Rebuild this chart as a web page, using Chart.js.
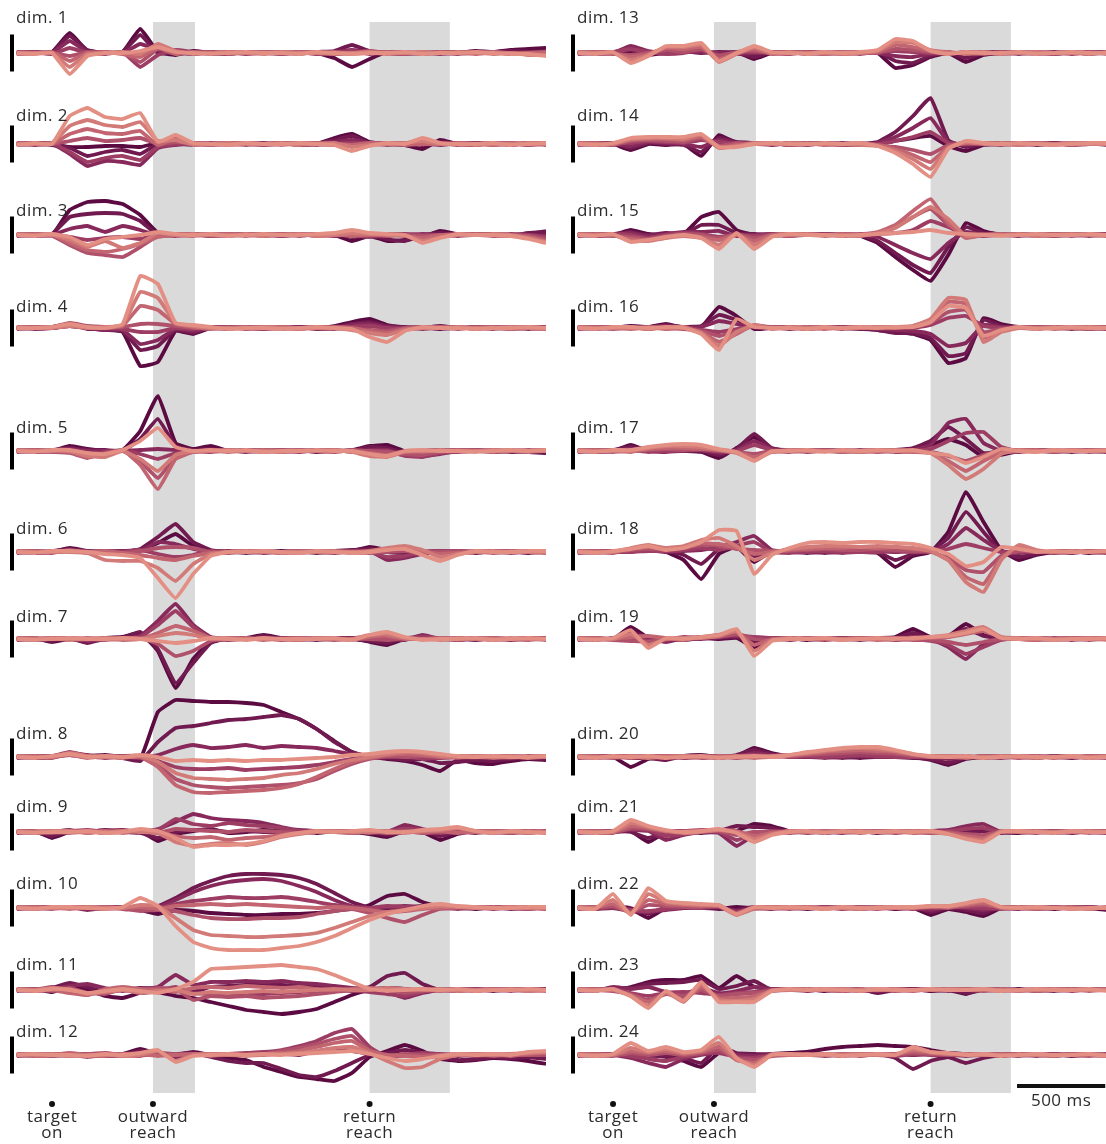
<!DOCTYPE html>
<html><head><meta charset="utf-8">
<script src="https://cdn.jsdelivr.net/npm/chart.js@4.4.0/dist/chart.umd.min.js"></script>
<style>
html,body{margin:0;padding:0;background:#fff;overflow:hidden;width:1106px;height:1144px;}
#wrap{position:relative;width:1106px;height:1144px;overflow:hidden;}
canvas{position:absolute;}
</style></head><body><div id="wrap"></div>
<script>
// ---------- DATA ----------
const times = [-200,-100,0,100,200,300,400,500,600,700,800,900,1000,1100,1200,1300,1400,1500,1600,1700,1800,1900,2000,2100,2200,2300,2400,2500,2600,2700,2800];
const dimNames = ["dim. 1","dim. 2","dim. 3","dim. 4","dim. 5","dim. 6","dim. 7","dim. 8","dim. 9","dim. 10","dim. 11","dim. 12","dim. 13","dim. 14","dim. 15","dim. 16","dim. 17","dim. 18","dim. 19","dim. 20","dim. 21","dim. 22","dim. 23","dim. 24"];
const eventTimes = [0, 572, 1800];
const eventLabels = [["target","on"],["outward","reach"],["return","reach"]];
const bandRanges = [[572, 810],[1800, 2255]];
const timeBar = [2290, 2790];
const timeBarLabel = "500 ms";
const ampBar = 18.5;

const dim1 = [
[0,1,1,20,2,0,1,24,1,-2,2,0,-1,1,0,-1,1,0,-5,-14,-6,1,0,-1,1,0,2,1,3,4,5],
[1,0,1,17,3,0,1,18,0,0,-1,1,0,0,1,0,-1,1,2,8,2,0,-1,0,1,1,0,1,2,1,2],
[-1,0,0,12,1,1,0,9,3,1,0,-1,1,0,0,1,0,0,1,3,1,1,0,0,-1,0,1,0,0,1,0],
[0,1,-1,5,0,-1,1,-14,-2,3,1,0,1,-1,0,0,1,-1,0,2,-1,0,1,0,0,-1,0,1,-1,0,-1],
[1,0,0,-3,1,0,0,-9,4,2,0,1,0,1,0,-1,0,1,-1,0,2,0,-1,1,0,0,1,0,0,-1,0],
[0,-1,1,-8,0,1,-1,-4,5,-1,1,0,-1,0,1,0,1,0,1,-1,0,1,0,-1,1,0,-1,1,0,0,1],
[-1,0,0,-14,-1,0,1,-1,9,2,-1,0,1,0,-1,1,0,0,-1,0,1,-1,0,1,0,1,0,-1,0,-2,-2],
[0,-1,0,-21,-3,0,0,2,6,1,0,-1,0,1,0,0,-1,1,0,-1,0,0,1,-1,0,0,1,0,-1,-1,-3]];
const dim2 = [
[0,1,0,-3,-3,-2,-2,-3,1,0,-1,0,1,0,-1,0,1,0,6,10,2,0,-1,-5,4,0,1,0,-1,1,0],
[1,0,-1,-4,-12,-8,-6,-10,0,1,0,-1,0,1,0,1,-1,0,4,8,1,1,0,-1,2,0,-1,1,0,0,1],
[0,-1,0,-10,-22,-17,-18,-21,-4,-1,1,0,-1,0,1,0,0,1,2,4,1,0,1,0,-1,1,0,0,1,-1,0],
[-1,0,1,-8,-18,-14,-12,-16,-3,0,0,1,0,-1,0,1,0,-1,0,1,0,-1,0,1,0,0,1,-1,0,1,-1],
[0,1,0,3,6,3,4,6,0,2,1,0,1,0,-1,0,1,0,-1,-2,0,1,0,0,1,-1,0,1,0,-1,0],
[1,0,0,10,15,11,10,13,-1,6,1,-1,0,1,0,-1,0,1,0,-1,1,0,-1,0,0,1,0,-1,1,0,1],
[0,0,1,18,24,19,17,22,3,4,-1,0,1,0,0,1,-1,0,1,-3,-1,0,1,3,0,0,-1,0,0,1,0],
[-1,1,0,28,36,27,25,31,2,9,1,0,-1,1,0,0,1,0,-1,-7,-2,1,0,6,1,0,0,1,-1,0,1]];
const dim3 = [
[0,1,0,25,33,34,31,20,2,0,1,-1,0,1,0,-1,0,1,0,-6,-1,-6,-5,-2,4,1,0,1,0,1,4],
[1,0,1,18,21,22,21,14,0,1,0,0,-1,0,1,0,1,-1,1,-2,0,-4,-6,0,2,0,1,0,-1,2,3],
[0,-1,0,6,9,3,9,5,-1,0,1,0,1,0,-1,1,0,0,-1,1,0,1,0,1,0,-1,0,1,0,0,-1],
[-1,0,0,-2,-5,-3,-2,-4,0,-1,0,1,0,1,0,-1,1,0,0,0,-2,0,1,0,-1,0,1,0,1,0,-2],
[0,0,-1,-10,-18,-20,-22,-12,-1,1,0,-1,0,0,1,0,-1,1,0,0,1,-1,0,-1,0,1,0,-1,0,-1,-4],
[0,1,0,-8,-15,-17,-14,-9,-2,0,-1,0,1,-1,0,1,0,0,1,-1,0,0,-1,-3,0,0,1,0,-1,-2,-6],
[1,0,0,-5,-12,-6,-13,-8,2,0,1,0,0,1,-1,0,1,-1,0,2,1,0,0,-6,-2,0,0,1,0,-3,-7],
[0,-1,1,-2,-10,-4,-2,0,3,1,0,1,-1,0,1,0,0,1,2,5,2,1,0,-8,-3,1,0,0,-1,-4,-8]];
const dim4 = [
[0,1,0,2,0,-2,-4,-38,-34,-3,-6,0,1,0,-1,0,1,0,2,6,9,3,0,1,-1,0,1,0,-1,0,1],
[1,0,1,4,-1,-1,-3,-22,-18,-2,-5,1,0,1,0,-1,0,1,1,4,6,2,1,0,2,0,0,1,0,-1,0],
[0,-1,0,3,0,-2,-2,-16,-12,-1,-3,0,-1,0,1,0,1,-1,0,3,4,1,0,-1,0,1,-1,0,1,0,-1],
[-1,0,0,2,1,0,-1,-4,-4,0,-1,1,0,0,-1,1,0,0,-1,1,2,0,-1,0,1,0,0,-1,0,1,0],
[0,0,1,5,2,1,1,4,4,2,0,0,1,-1,0,0,-1,1,0,-1,-2,-3,0,1,0,-1,1,0,0,0,1],
[0,1,0,3,1,0,2,22,18,4,1,-1,0,1,0,1,0,0,1,0,-3,-5,-1,0,1,0,0,1,-1,0,0],
[1,0,0,2,0,1,3,36,30,5,2,0,0,0,1,0,-1,0,0,-2,-5,-7,-2,0,0,1,0,0,1,0,-1],
[0,0,1,4,1,0,4,52,44,5,3,1,-1,0,0,-1,0,1,0,-1,-9,-14,-3,1,0,0,-1,0,0,1,0]];
const dim5 = [
[0,1,0,5,2,0,1,20,55,8,2,5,0,1,0,-1,0,1,0,1,5,6,0,-1,0,1,0,-1,0,-1,-2],
[1,0,1,3,1,1,0,12,32,5,1,2,0,0,1,0,1,-1,0,0,4,3,-2,0,1,0,1,0,-1,0,-1],
[0,-1,0,2,0,0,0,1,2,1,0,0,1,-1,0,1,0,0,1,-1,1,1,-4,-5,-3,0,0,1,0,0,0],
[-1,0,0,-1,-4,-1,0,-3,-8,-2,0,-1,0,1,0,0,-1,1,0,0,-1,0,-5,-6,-2,-1,0,0,1,0,1],
[0,0,-1,-2,-7,-2,0,-10,-27,-6,-1,0,0,0,-1,1,0,0,-1,1,0,-1,-3,-4,-1,0,1,0,0,1,0],
[0,1,0,-1,-6,-3,1,-14,-38,-8,-1,1,-1,0,1,0,1,0,0,0,-2,-4,0,-1,0,1,0,-1,0,0,1],
[1,0,0,0,-5,-6,0,-8,-20,-4,0,0,1,0,0,-1,0,0,1,-1,-5,-6,-1,0,1,0,0,1,0,-1,0],
[0,-1,1,1,-2,-3,1,10,23,4,0,1,0,1,-1,0,0,1,0,0,-3,-5,0,1,0,0,-1,0,1,0,1]];
const dim6 = [
[0,1,0,4,1,0,1,2,9,18,6,1,0,-1,0,1,0,-1,0,1,5,2,0,-1,0,1,0,0,1,-1,0],
[1,0,1,3,0,1,0,3,15,28,10,2,0,1,0,0,1,0,1,2,3,0,-1,0,1,0,-1,1,0,0,1],
[0,-1,0,2,1,0,1,1,10,8,3,0,1,0,-1,0,0,1,0,0,1,-8,-6,-2,0,-1,0,1,0,1,0],
[-1,0,0,1,0,-1,0,2,-2,-5,-3,1,0,0,1,-1,0,0,-1,1,0,-5,-4,0,1,0,1,0,-1,0,0],
[0,0,-1,2,-1,0,-1,1,4,5,4,0,-1,1,0,0,-1,1,0,0,-1,0,1,0,0,1,0,-1,0,0,1],
[0,1,0,1,0,1,-1,-3,-6,-8,-4,-1,0,0,1,0,1,0,0,-1,0,3,4,1,-2,-1,0,0,1,0,-1],
[1,0,0,0,-1,-8,-9,-9,-16,-29,-12,-2,0,1,0,-1,0,0,1,0,1,4,6,2,-5,-2,0,1,0,0,0],
[0,-1,1,1,0,-2,-3,-6,-26,-46,-22,-4,0,0,1,0,-1,1,0,-1,0,2,3,-3,-9,-3,1,0,0,1,1]];
const dim7 = [
[0,1,-3,0,-3,1,2,6,-12,-49,-20,-2,0,1,4,1,0,-1,0,1,-3,-6,0,1,0,-1,1,0,0,1,0],
[1,0,-2,1,-4,0,1,7,-10,-44,-24,-4,1,0,3,0,1,0,1,0,-2,-4,1,2,0,0,-1,1,0,0,1],
[0,-1,0,1,-2,0,0,3,18,35,14,2,0,1,0,0,-1,0,0,1,2,0,-1,4,0,1,0,0,-1,0,0],
[-1,0,1,0,-1,1,1,2,14,28,12,1,-1,0,0,1,0,1,0,0,1,1,0,2,1,0,0,-1,0,1,-1],
[0,0,0,1,0,-1,0,1,-5,-17,-12,-2,0,0,1,-1,0,0,-1,0,0,-1,1,0,0,-1,1,0,0,-1,0],
[0,1,0,0,1,0,-1,0,6,13,8,1,0,1,-1,0,1,0,0,-1,2,3,0,0,1,0,0,1,0,0,1],
[1,0,1,-1,0,1,0,0,3,6,4,0,1,0,0,0,-1,1,0,0,4,5,1,0,-1,1,0,0,1,0,0],
[0,-1,0,1,0,0,1,0,-2,-4,-2,1,0,-1,1,0,0,0,1,-1,4,7,2,-1,0,0,1,-1,0,1,0]];
const dim8 = [
[0,1,0,3,1,2,0,-2,45,57,56,55,55,54,52,45,38,28,16,5,0,-2,-4,-8,-14,-3,-6,-7,-4,-2,-3],
[1,0,1,2,0,1,-1,-4,15,29,31,34,37,38,40,42,38,28,15,5,0,-1,-3,-2,-6,-5,-3,-4,-2,-1,-2],
[0,-1,0,4,2,0,1,0,2,8,12,9,10,12,9,11,10,9,6,3,1,2,0,-1,0,1,-1,0,1,0,0],
[-1,0,1,5,1,-1,0,-1,-4,-10,-12,-12,-11,-13,-12,-11,-10,-8,-5,-2,-1,0,1,-2,-1,0,1,0,-1,0,1],
[0,0,-1,3,0,0,1,1,-8,-22,-28,-30,-31,-30,-29,-28,-26,-22,-14,-7,-2,1,0,1,0,-1,0,1,0,1,0],
[0,1,0,2,-1,1,0,0,-10,-28,-35,-36,-35,-34,-33,-31,-27,-20,-12,-5,-1,2,3,2,0,1,0,-1,0,0,1],
[1,0,0,4,1,0,-1,1,-5,-16,-21,-22,-23,-22,-21,-18,-16,-12,-7,-3,0,3,5,4,1,0,1,0,1,-1,0],
[0,-1,1,3,0,1,0,2,0,-4,-3,-4,-3,-4,-3,-3,-2,-1,0,2,3,5,6,5,3,1,0,1,0,0,1]];
const dim9 = [
[0,1,-6,0,1,-1,1,1,-9,-2,1,3,-1,0,2,1,0,-1,1,0,-2,-5,1,0,-8,-2,1,0,-1,1,0],
[1,0,-4,1,0,2,0,-1,-6,0,2,2,0,1,0,-1,1,0,0,1,0,-3,0,1,-4,0,0,1,0,-1,1],
[0,-1,0,2,-1,1,2,0,3,10,18,14,12,11,9,5,2,1,0,-1,1,0,7,3,0,1,-1,0,1,0,0],
[-1,0,1,1,2,0,1,0,2,13,8,6,9,7,6,4,1,0,1,0,0,1,3,2,-1,0,1,-1,0,1,-1],
[0,0,-1,0,1,-1,0,1,-1,3,2,1,0,2,1,0,-1,1,0,1,-1,0,1,-1,0,2,0,0,-1,0,1],
[0,1,0,-1,0,1,-1,2,0,-4,-6,-5,-8,-6,-5,-3,-1,0,0,-1,1,-1,0,0,1,-1,0,1,0,1,0],
[1,0,1,1,-1,0,1,0,-1,-10,-14,-12,-11,-13,-10,-5,-2,0,1,0,0,1,-1,1,2,4,1,0,0,-1,0],
[0,-1,0,0,1,-1,0,3,1,-6,-15,-13,-13,-12,-9,-4,-1,1,0,1,2,0,0,2,3,5,1,-1,1,0,-1]];
const dim10 = [
[0,1,0,1,-1,0,1,-2,-6,-2,-3,-5,-6,-7,-7,-6,-6,-5,-3,-1,3,12,14,6,1,0,-1,1,0,-1,1],
[1,0,1,0,0,1,0,0,2,10,20,27,32,34,34,33,30,24,15,6,0,-1,0,2,1,0,1,0,-1,0,0],
[0,-1,0,1,-2,0,1,-1,1,8,16,22,26,28,29,27,22,16,8,2,0,1,2,1,0,-1,0,1,0,1,-1],
[-1,0,1,0,0,-1,0,1,0,4,7,9,11,10,10,11,9,6,3,1,0,2,1,0,0,1,0,-1,1,0,0],
[0,0,-1,1,1,0,-1,-3,-2,-3,-7,-10,-11,-11,-10,-10,-9,-6,-3,-1,-5,-10,-14,-7,-1,0,1,0,0,-1,1],
[0,1,0,-1,0,1,0,1,-1,2,3,4,3,4,3,2,1,0,1,0,-2,-4,-3,-1,0,1,0,1,0,0,-1],
[1,0,0,0,1,0,0,3,2,-10,-22,-27,-28,-29,-29,-28,-27,-25,-20,-14,-8,-4,-2,0,2,1,0,0,1,0,0],
[0,-1,1,1,0,-1,1,10,2,-18,-34,-40,-42,-42,-42,-40,-38,-34,-28,-20,-12,-6,-2,2,4,2,1,0,0,1,1]];
const dim11 = [
[0,1,-2,3,0,-6,-8,-3,-2,-6,-8,-12,-16,-20,-22,-24,-22,-19,-12,-5,0,2,1,-1,0,1,0,-1,0,1,0],
[1,0,2,7,3,-2,0,2,1,0,-2,3,4,5,6,5,4,3,2,1,3,14,17,6,0,-1,1,0,1,0,1],
[0,-1,1,4,6,2,-1,1,3,15,5,8,8,9,8,9,7,6,4,2,0,-2,-8,-3,0,0,-1,1,0,-1,0],
[-1,0,3,-2,-5,0,2,0,-1,3,-3,-4,-3,-5,-4,-3,-2,-1,0,-1,-2,-4,-6,-2,1,0,1,0,-1,0,1],
[0,1,-1,2,-3,-4,1,-1,2,1,-10,-6,-7,-6,-8,-7,-6,-4,-2,0,1,0,-3,-1,0,1,0,0,1,1,0],
[0,-1,0,-3,-5,1,3,1,0,-2,2,3,2,4,3,2,3,1,0,1,2,1,0,1,-1,0,0,1,0,0,-1],
[1,0,2,1,-4,-2,0,-3,-1,0,-4,-2,-3,-2,-1,-2,-1,0,1,0,0,2,1,0,1,-1,0,0,1,-1,0],
[0,-1,1,0,-3,-1,1,-1,-3,1,8,21,22,23,24,25,23,21,15,8,1,-1,0,1,0,1,-1,0,0,1,0]];
const dim12 = [
[0,-1,0,1,-1,0,1,6,1,0,3,0,-3,-5,-12,-17,-22,-24,-26,-18,-2,4,10,4,-4,-6,-5,-3,-4,-6,-9],
[1,0,-1,0,1,-1,0,4,0,1,2,-2,-6,-8,-8,-14,-20,-22,-16,-8,0,2,5,2,-2,-5,-4,-2,-3,-2,-4],
[0,1,0,-1,0,1,-1,2,3,-2,0,1,0,1,2,1,0,4,6,4,1,0,-1,1,0,-1,1,0,0,1,0],
[-1,0,1,1,-2,0,1,0,1,0,1,0,1,2,3,5,9,14,22,26,8,-2,0,2,1,0,-1,1,0,0,1],
[0,0,-1,0,1,2,0,-1,2,1,0,1,0,1,1,4,7,11,16,19,5,-1,1,0,0,1,0,-1,1,0,0],
[0,-1,0,2,0,-1,1,1,-1,0,1,-1,1,0,1,2,4,8,12,14,4,0,-1,-2,0,0,1,0,-1,1,2],
[1,0,1,-1,0,0,-1,0,4,-6,0,1,0,-1,0,1,2,4,7,8,2,-6,-13,-12,-4,0,1,0,1,2,3],
[0,1,0,0,-1,1,0,2,5,-7,-1,0,1,0,1,0,1,2,3,4,1,-3,-6,-4,-1,1,0,1,0,3,4]];
const dim13 = [
[0,1,0,1,-2,0,1,2,-1,1,-6,0,1,0,-1,0,1,0,-15,-12,-4,0,-9,-2,0,1,0,-1,1,0,1],
[1,0,1,3,0,1,2,0,1,0,-4,1,0,1,0,-1,0,1,-8,-10,-3,1,-5,0,1,0,-1,0,1,-1,0],
[0,-1,0,7,2,0,1,1,0,-1,0,0,1,-1,0,1,0,0,-3,-4,-1,0,0,1,0,-1,0,1,0,0,1],
[-1,0,1,4,1,-1,0,3,-2,0,1,1,0,0,1,0,-1,1,2,1,0,-1,1,0,-1,0,1,0,-1,1,0],
[0,0,-1,-2,0,3,1,4,-3,1,2,0,-1,1,0,0,1,0,4,3,1,0,0,-1,1,0,0,-1,0,1,-1],
[0,1,0,-4,-1,5,4,6,-6,0,4,-1,0,0,-1,1,0,1,8,6,2,1,-1,0,0,1,0,0,1,0,0],
[1,0,0,-7,-2,6,6,8,-9,-1,6,0,1,0,0,-1,0,2,11,10,3,0,0,1,-1,0,1,0,0,-1,1],
[0,-1,1,-10,-3,7,7,10,-8,0,7,1,0,-1,1,0,1,3,14,12,2,-1,1,0,0,1,-1,0,1,0,0]];
const dim14 = [
[0,1,0,-6,0,-1,0,-12,9,1,0,1,-1,0,1,0,-1,0,3,6,8,-2,-7,-1,0,1,0,1,-1,0,0],
[1,0,1,-4,1,0,-1,-8,6,2,1,0,0,1,0,-1,0,2,12,28,46,4,-3,0,1,0,-1,0,0,1,-1],
[0,-1,0,-2,2,1,0,-3,4,1,0,-1,1,0,0,1,0,1,7,16,26,2,-1,1,0,-1,0,1,0,0,1],
[-1,0,1,1,3,2,1,4,2,0,1,0,0,-1,1,0,0,0,3,7,12,1,0,0,-1,0,1,0,1,0,0],
[0,0,-1,3,4,3,2,6,-2,1,0,1,-1,0,0,-1,1,-1,-3,-6,-10,-1,1,0,0,1,0,-1,0,1,0],
[0,1,0,4,5,5,4,7,-3,-1,0,0,0,1,-1,0,0,-1,-5,-11,-18,-3,1,1,0,0,1,0,-1,0,1],
[1,0,0,5,6,6,5,9,-4,-2,1,0,1,0,0,0,-1,-2,-7,-15,-25,-4,2,0,1,-1,0,0,1,0,0],
[0,-1,1,6,7,7,7,10,-3,-3,0,1,0,0,1,0,1,-2,-9,-20,-33,-5,3,1,0,1,0,-1,0,1,1]];
const dim15 = [
[0,1,0,5,1,0,1,18,23,5,0,1,-1,0,1,0,-1,-8,-22,-35,-46,-20,12,4,0,1,0,-1,0,1,0],
[1,0,1,3,0,2,1,10,10,2,1,0,0,1,0,-1,0,-6,-18,-30,-38,-12,8,2,1,0,-1,0,1,0,1],
[0,-1,0,2,-1,1,3,3,4,-1,0,-1,1,0,0,1,0,-2,-10,-18,-24,-8,3,0,0,-1,0,1,0,-1,0],
[-1,0,1,0,-3,0,2,1,-2,0,-1,1,0,0,1,0,0,1,2,5,14,8,0,-1,0,0,1,0,-1,0,1],
[0,0,-1,-2,-4,-1,1,0,-3,1,-3,0,-1,1,0,0,1,2,8,18,26,10,0,1,0,1,0,-1,0,1,0],
[0,1,0,-4,-5,-2,0,-2,-5,0,-6,0,1,0,-1,1,0,3,10,24,36,12,-3,0,1,0,0,1,0,0,-1],
[1,0,0,-6,-6,-3,-1,-3,-10,1,-10,-1,0,1,0,0,-1,2,7,18,28,16,-1,0,0,1,-1,0,1,0,0],
[0,-1,1,-7,-5,-2,0,-3,-14,2,-14,-2,1,0,0,-1,0,1,2,3,5,2,1,0,-1,0,1,0,0,1,0]];
const dim16 = [
[0,1,0,2,1,4,0,1,21,12,-1,0,1,-1,0,1,0,-2,-4,-6,-12,-35,-30,10,4,1,0,1,0,-1,0],
[1,0,1,1,0,3,1,2,13,8,0,1,0,0,1,0,-1,-2,-5,-5,-10,-28,-25,8,2,0,1,0,-1,0,1],
[0,-1,0,0,1,2,0,1,7,4,1,0,-1,1,0,0,1,-1,-2,-3,-6,-18,-15,3,1,0,-1,1,0,1,0],
[-1,0,1,1,-1,1,1,-2,-4,-1,2,0,0,-1,0,1,0,0,1,0,3,10,12,2,0,1,0,0,1,0,-1],
[0,0,-1,0,0,0,-1,-3,-8,-3,2,1,1,0,1,-1,0,1,0,1,5,16,18,-4,-1,0,1,0,0,-1,0],
[0,1,0,-1,1,-1,0,-4,-14,-6,3,0,0,1,-1,0,1,0,1,2,8,26,24,-10,-3,1,0,-1,0,0,1],
[1,0,0,0,-1,0,1,-5,-18,-4,3,-1,1,0,0,0,0,1,0,2,9,30,28,-14,-4,0,0,1,0,1,0],
[0,-1,1,1,0,1,0,-6,-22,9,1,0,0,-1,1,0,1,0,1,1,6,22,20,-8,-2,1,-1,0,1,0,0]];
const dim17 = [
[0,1,0,6,0,1,0,-1,-7,3,14,1,0,1,0,-1,0,1,0,2,6,12,6,-6,-4,0,1,0,-1,0,1],
[1,0,1,4,1,0,1,0,-4,2,17,3,0,0,1,0,-1,0,1,3,10,24,12,-2,0,1,0,-1,0,1,0],
[0,-1,0,2,0,-1,0,1,-2,1,10,2,1,0,0,1,0,0,0,1,6,28,32,8,0,-1,1,0,0,0,-1],
[-1,0,1,1,-1,0,1,1,0,0,6,1,0,-1,0,0,1,0,-1,0,2,10,18,19,4,0,0,1,0,-1,0],
[0,0,-1,0,1,2,1,2,0,-1,-3,0,-1,0,1,0,0,-1,0,0,-1,-5,-10,-4,0,1,0,-1,1,0,0],
[0,1,0,-1,2,3,3,2,1,-1,-6,-1,0,1,0,-1,0,1,0,-1,-2,-10,-20,-10,-2,0,1,0,0,1,0],
[1,0,0,0,3,5,5,4,1,-2,-9,-1,1,0,0,0,-1,0,1,0,-2,-14,-28,-18,-3,1,0,0,1,0,0],
[0,-1,1,1,4,6,7,6,2,-1,-10,0,0,1,-1,1,0,1,0,1,-2,-4,-12,-6,2,0,-1,1,0,0,1]];
const dim18 = [
[0,1,0,1,5,0,-8,-27,-2,5,-10,1,0,-1,0,1,0,-1,-15,-4,0,20,60,30,2,-8,-3,0,1,-1,0],
[1,0,1,0,3,1,-3,-12,3,6,-4,0,1,0,-1,0,1,0,-8,-2,1,14,40,20,0,-5,-2,1,0,0,1],
[0,-1,0,1,2,0,1,2,5,10,16,2,0,1,0,-1,0,1,0,1,0,8,24,12,1,-1,0,0,-1,1,0],
[-1,0,1,0,1,1,2,4,2,6,10,0,-1,0,1,0,0,0,1,0,1,3,8,4,0,0,1,-1,0,0,-1],
[0,0,-1,2,3,2,4,7,6,3,2,1,1,2,3,2,2,3,2,1,0,-6,-18,-20,-4,1,0,0,1,0,0],
[0,1,0,3,5,3,5,9,8,4,-2,0,2,3,4,4,5,4,5,3,1,-8,-25,-32,-6,6,1,0,0,1,0],
[1,0,0,4,7,4,6,12,14,6,-8,-1,3,5,6,6,5,6,5,4,1,-8,-30,-40,-8,7,2,0,1,0,1],
[0,-1,1,3,6,2,4,10,22,21,-22,-3,4,9,10,9,10,10,9,8,4,-2,-14,-10,5,3,0,1,0,0,1]];
const dim19 = [
[0,1,0,12,1,0,-1,1,0,1,-8,0,1,-1,0,1,0,1,2,10,2,3,15,4,0,1,0,-1,0,1,0],
[1,0,1,6,2,-2,0,1,1,2,-3,1,0,0,1,0,-1,0,1,6,1,2,10,3,1,0,-1,0,1,0,0],
[0,-1,1,3,0,-3,1,0,2,3,1,0,-1,1,0,0,1,0,0,2,0,-8,-20,-5,0,0,1,0,-1,0,1],
[-1,0,0,1,-2,-1,2,1,3,4,2,1,0,0,-1,1,0,0,-1,0,-2,-6,-15,-8,-1,1,0,1,0,-1,0],
[0,0,-1,-2,-3,0,1,2,2,5,0,-1,1,0,0,-1,0,1,0,-1,-1,-3,-6,-3,0,0,1,0,0,1,0],
[0,1,0,2,3,1,-1,2,4,7,-6,0,0,1,0,0,1,-1,0,0,1,2,5,8,2,0,-1,0,1,0,0],
[1,0,0,5,-6,0,1,1,3,8,-12,-1,1,0,1,0,0,0,1,0,2,4,8,12,2,1,0,0,0,1,-1],
[0,-1,1,9,-9,1,0,2,4,10,-17,-2,0,0,1,-1,0,1,0,1,2,3,6,10,1,0,1,-1,0,0,1]];
const dim20 = [
[0,1,0,-10,-2,1,0,1,-1,1,9,4,1,0,1,0,-1,0,1,0,-3,-8,-2,0,1,0,-1,1,0,0,1],
[1,0,1,-1,-1,-3,1,2,0,2,7,3,0,1,0,-1,0,1,0,-1,-2,-6,-1,1,0,1,0,0,-1,1,0],
[0,-1,0,0,1,-1,0,1,1,0,4,2,1,0,-1,0,1,0,0,1,0,-2,0,0,-1,0,1,0,0,-1,0],
[-1,0,1,1,0,0,-1,0,-1,1,2,1,0,1,0,1,2,1,0,0,1,0,1,-1,0,0,0,1,0,0,-1],
[0,0,-1,0,1,1,0,-1,0,-1,1,0,1,2,3,4,5,4,3,1,0,1,0,0,1,-1,0,0,1,0,0],
[0,1,0,-1,0,1,1,0,1,0,-1,0,1,3,5,6,7,6,5,2,1,0,-1,1,0,0,1,-1,0,1,0],
[1,0,0,1,-1,0,1,0,0,1,0,1,2,4,6,8,9,8,6,3,0,1,0,0,1,0,-1,0,0,0,1],
[0,-1,1,0,1,-1,0,1,-1,0,1,0,2,5,7,9,10,10,7,3,1,0,1,-1,0,1,0,0,1,-1,0]];
const dim21 = [
[0,1,0,1,-10,0,1,-1,0,1,8,6,1,0,-1,1,0,0,1,0,-1,0,1,2,0,-1,0,1,0,0,1],
[1,0,1,0,-6,-1,0,1,1,6,5,4,0,1,0,0,1,-1,0,1,0,1,0,1,-1,0,1,0,-1,1,0],
[0,-1,0,2,1,-8,-3,0,-1,-14,-3,0,1,0,0,-1,0,1,0,0,1,2,6,8,0,1,0,-1,0,0,-1],
[-1,0,1,3,2,-4,-2,1,0,-8,-2,1,0,-1,1,0,1,0,-1,1,0,1,3,4,0,0,-1,0,1,0,0],
[0,0,-1,4,3,0,1,2,1,-3,0,0,-1,1,0,1,0,0,1,0,-1,0,-2,-3,1,0,0,1,0,-1,0],
[0,1,0,6,4,1,0,1,2,1,-4,-1,0,0,1,0,-1,1,0,-1,0,-1,-4,-6,0,1,0,0,1,0,1],
[1,0,0,9,5,1,-1,0,2,0,-7,-2,1,0,0,0,1,0,0,1,0,-2,-6,-8,1,0,1,0,0,1,0],
[0,-1,1,12,6,2,0,1,3,-1,-10,-3,0,1,-1,1,0,0,1,0,1,-2,-7,-10,0,1,0,-1,1,0,0]];
const dim22 = [
[0,1,0,-1,-10,0,1,0,-1,1,0,1,0,-1,1,0,0,1,-1,0,-7,-1,-4,-8,0,1,0,-1,1,0,-2],
[1,0,1,0,-6,1,0,1,0,-2,1,0,1,0,0,1,-1,0,0,1,-4,0,-2,-5,1,0,-1,0,0,1,-1],
[0,-1,0,-3,-4,-2,0,1,1,-3,0,-1,0,1,0,0,1,0,1,0,-2,1,0,-2,0,-1,0,1,0,0,0],
[-1,0,1,-2,-3,-1,1,0,1,-4,1,0,-1,0,1,-1,0,0,0,-1,0,1,1,0,-1,0,1,0,-1,1,0],
[0,0,2,-4,3,2,1,1,2,-5,0,1,0,0,-1,0,1,-1,0,1,1,0,2,3,1,0,0,1,0,-1,1],
[0,1,4,-5,8,4,3,2,3,-6,-1,0,1,0,0,1,0,0,1,0,1,2,3,5,0,0,-1,0,1,0,0],
[1,0,8,-6,14,6,4,3,2,-7,0,1,0,1,0,0,-1,1,0,0,2,1,4,7,1,1,0,0,0,-1,1],
[0,-1,14,-7,20,7,5,4,3,-6,1,0,1,0,-1,1,0,0,1,1,2,2,5,8,1,0,1,0,-1,0,0]];
const dim23 = [
[0,1,0,3,8,10,10,14,2,14,3,1,0,1,-1,0,1,-3,0,1,-1,0,-4,1,0,1,-1,0,1,0,0],
[1,0,2,2,6,7,8,10,1,4,9,0,1,0,0,-1,0,-2,1,0,0,1,-3,0,1,0,0,-1,0,1,0],
[0,-1,3,1,3,-2,-4,2,-3,-1,3,1,0,-1,1,0,0,-1,0,1,0,-1,0,1,0,-1,0,1,0,0,1],
[-1,0,1,-3,-6,-3,-2,-3,-5,-3,-2,0,1,0,0,1,-1,0,1,0,1,0,1,0,-1,0,1,0,-1,1,0],
[0,0,-1,-4,-10,-4,-6,0,-6,-4,-3,-1,0,0,1,0,0,1,-1,0,0,1,0,-1,0,0,0,1,0,-1,0],
[0,1,0,-5,-12,-3,-10,3,-8,-8,-6,-1,1,0,0,-1,1,0,0,-1,1,0,1,0,1,0,-1,0,1,0,1],
[1,0,0,-6,-16,-2,-12,6,-10,-11,-9,0,0,1,0,1,0,0,1,0,0,1,0,1,0,-1,0,1,0,0,0],
[0,-1,1,-6,-18,-1,-11,8,-12,-12,-12,-1,1,0,1,0,-1,1,0,0,1,0,0,1,-1,0,1,0,0,1,-1]];
const dim24 = [
[0,1,0,1,-1,0,-6,-12,2,1,0,1,2,3,6,8,9,10,9,8,5,2,1,0,-1,1,0,-1,0,1,0],
[1,0,1,0,0,-2,-3,-8,8,2,1,0,1,0,0,-1,0,1,-3,-14,-6,-2,-8,-3,0,1,0,1,-1,0,0],
[0,-1,0,-3,-8,-12,-4,0,3,0,-1,0,0,1,0,0,1,0,1,0,1,0,-1,0,1,0,-1,0,1,0,1],
[-1,0,1,-1,-4,-6,-2,1,2,-2,-3,0,1,0,-1,1,0,0,-1,1,0,0,1,0,0,-1,0,1,0,0,-1],
[0,0,-1,2,0,2,0,2,5,-3,-5,-1,0,0,1,0,-1,1,0,2,1,0,0,1,0,0,1,0,0,-1,0],
[0,1,0,4,2,4,1,3,8,-5,-8,0,1,0,0,1,0,0,1,4,2,1,0,0,1,0,0,-1,1,0,0],
[1,0,0,7,3,6,2,4,12,-4,-10,1,0,1,0,0,1,0,0,6,3,1,1,0,0,1,0,0,0,1,0],
[0,-1,1,12,4,8,3,5,18,-3,-12,0,1,0,1,-1,0,1,0,8,3,2,0,1,-1,0,1,0,0,1,-1]];

const dims = [dim1,dim2,dim3,dim4,dim5,dim6,dim7,dim8,dim9,dim10,dim11,dim12,
              dim13,dim14,dim15,dim16,dim17,dim18,dim19,dim20,dim21,dim22,dim23,dim24];

// ---------- LAYOUT / STYLE ----------
const colLeft = [0, 561];
const padLeft = 15;
const canvasW = 546;
const xMin = -210, xMax = 2800;
const baselines = [53,144,235,328,451,552,639,757,832,908,990,1055];
const labelRise = [35,28,24,21,23,23,22,23,25,24,25,23];
const halfH = 80;
const colors = ['#5c0b42','#711a50','#88295b','#9d3d64','#b0516b','#c26571','#d27a78','#e48f84'];
const textColor = '#2b2b2b';
const font = '17px "Open Sans", "Noto Sans", sans-serif';
const bandTop = 22, bandBottom = 1093;

const wrap = document.getElementById('wrap');
function makeCanvas(left, top, w, h) {
  const c = document.createElement('canvas');
  c.width = w; c.height = h;
  c.style.left = left + 'px'; c.style.top = top + 'px';
  c.style.width = w + 'px'; c.style.height = h + 'px';
  wrap.appendChild(c);
  return c;
}
const baseOpts = (yMin, yMax) => ({
  responsive: false, animation: false, events: [], devicePixelRatio: 1,
  layout: {padding: {left: padLeft, right: 0, top: 0, bottom: 0}},
  plugins: {legend: {display: false}, tooltip: {enabled: false}, title: {display: false}},
  scales: {
    x: {type: 'linear', min: xMin, max: xMax, display: false},
    y: {type: 'linear', min: yMin, max: yMax, display: false}
  }
});

// background charts: shaded epochs, event markers, time scale bar
[0, 1].forEach(col => {
  const cv = makeCanvas(colLeft[col], 0, canvasW, 1144);
  new Chart(cv, {
    type: 'line',
    data: {datasets: []},
    options: baseOpts(0, 1),
    plugins: [{
      id: 'bg' + col,
      beforeDraw(chart) {
        const ctx = chart.ctx, xs = chart.scales.x;
        ctx.save();
        ctx.fillStyle = '#dadada';
        bandRanges.forEach(b => {
          const x1 = xs.getPixelForValue(b[0]), x2 = xs.getPixelForValue(b[1]);
          ctx.fillRect(x1, bandTop, x2 - x1, bandBottom - bandTop);
        });
        ctx.restore();
      },
      afterDraw(chart) {
        const ctx = chart.ctx, xs = chart.scales.x;
        ctx.save();
        ctx.font = font;
        ctx.letterSpacing = '0.5px';
        ctx.textAlign = 'center';
        ctx.textBaseline = 'alphabetic';
        eventTimes.forEach((t, k) => {
          const x = xs.getPixelForValue(t);
          ctx.fillStyle = '#111';
          ctx.beginPath(); ctx.arc(x, 1104, 3, 0, Math.PI * 2); ctx.fill();
          ctx.fillStyle = textColor;
          ctx.fillText(eventLabels[k][0], x, 1122);
          ctx.fillText(eventLabels[k][1], x, 1138);
        });
        if (col === 1) {
          const x1 = xs.getPixelForValue(timeBar[0]), x2 = xs.getPixelForValue(timeBar[1]);
          ctx.fillStyle = '#111';
          ctx.fillRect(x1, 1084, x2 - x1, 4);
          ctx.fillStyle = textColor;
          ctx.fillText(timeBarLabel, (x1 + x2) / 2, 1106);
        }
        ctx.restore();
      }
    }]
  });
});

// one small chart per latent dimension
dims.forEach((lines, p) => {
  const col = p < 12 ? 0 : 1, row = p % 12;
  const cv = makeCanvas(colLeft[col], baselines[row] - halfH, canvasW, 2 * halfH);
  const datasets = lines.map((vals, c) => ({
    data: vals.slice(0, times.length).map((v, i) => ({x: times[i], y: v})),
    borderColor: colors[c], backgroundColor: colors[c],
    borderWidth: 3.8, pointRadius: 0, tension: 0.12, fill: false,
    borderJoinStyle: 'round', borderCapStyle: 'butt', order: 7 - c
  }));
  new Chart(cv, {
    type: 'line',
    data: {datasets},
    options: baseOpts(-halfH, halfH),
    plugins: [{
      id: 'deco' + p,
      afterDraw(chart) {
        const ctx = chart.ctx, ys = chart.scales.y, a = chart.chartArea;
        ctx.save();
        ctx.fillStyle = '#000';
        const yt = ys.getPixelForValue(ampBar), yb = ys.getPixelForValue(-ampBar);
        ctx.fillRect(a.left - 5, yt, 4, yb - yt);
        ctx.fillStyle = textColor;
        ctx.font = font;
        ctx.letterSpacing = '0.5px';
        ctx.textAlign = 'left';
        ctx.textBaseline = 'middle';
        ctx.fillText(dimNames[p], a.left + 1, ys.getPixelForValue(labelRise[row]));
        ctx.restore();
      }
    }]
  });
});
</script>
</body></html>
